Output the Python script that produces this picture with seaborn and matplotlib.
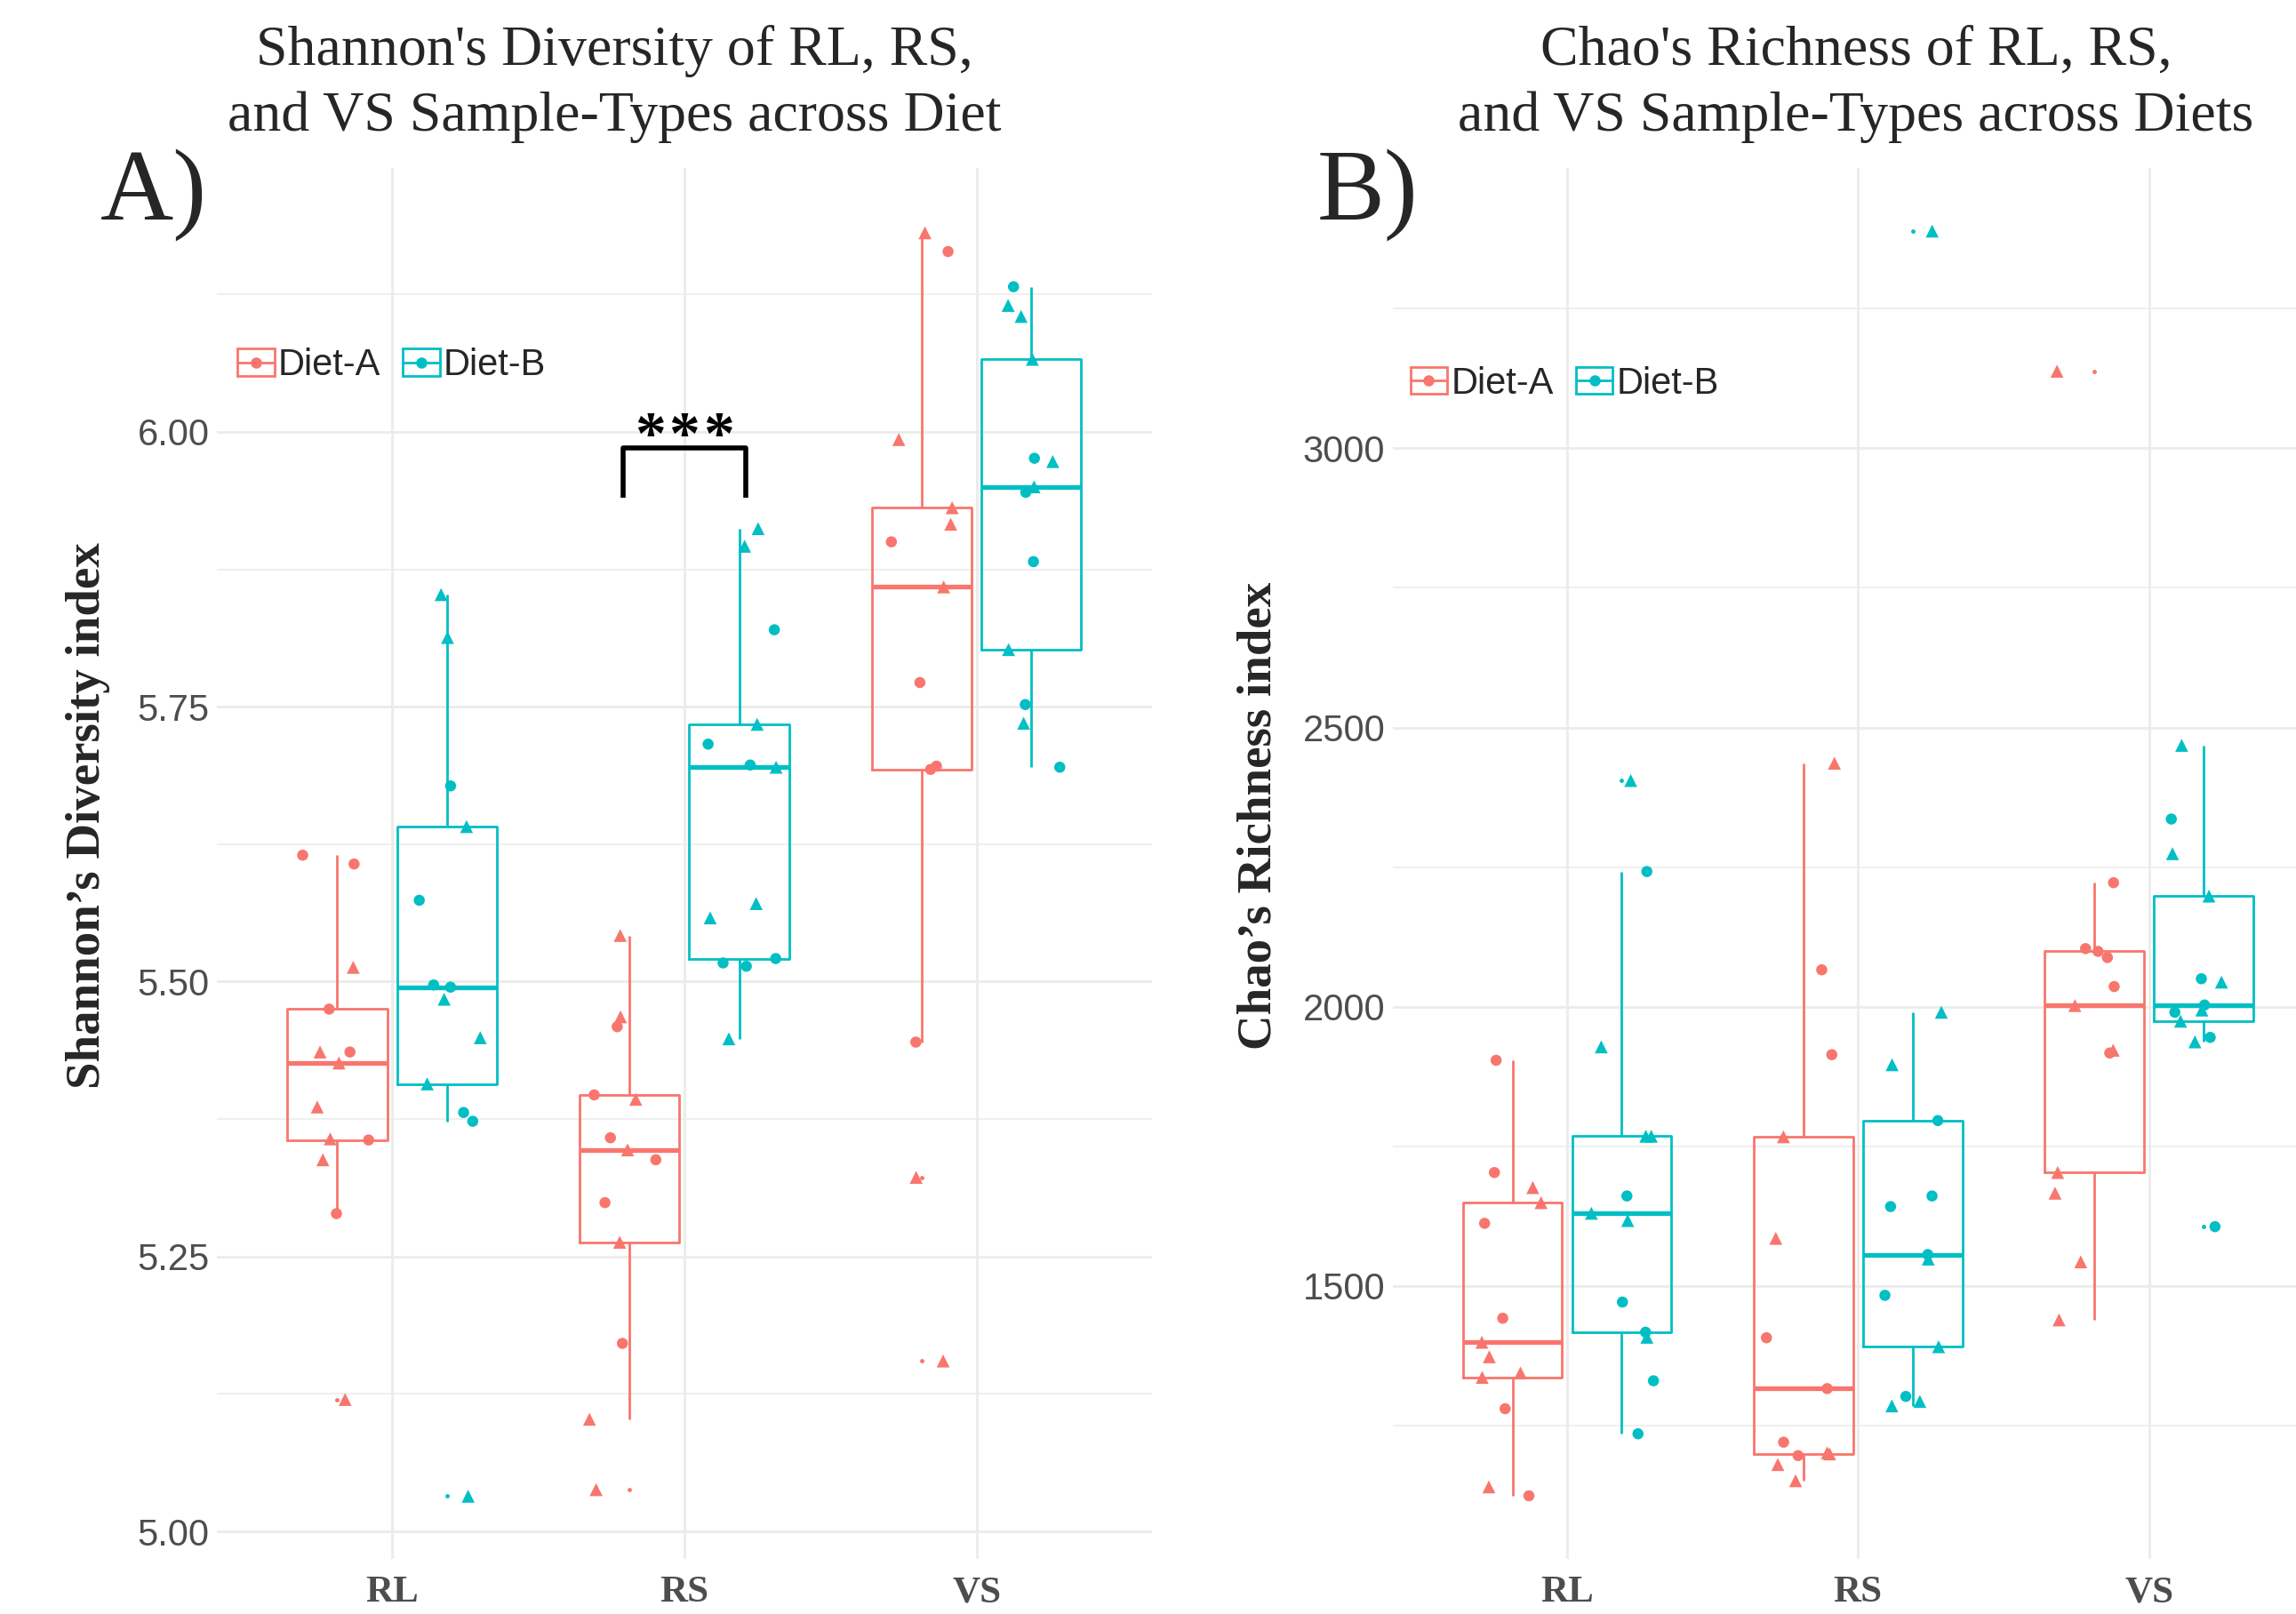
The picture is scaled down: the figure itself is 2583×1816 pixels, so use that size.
import numpy as np
import pandas as pd
import matplotlib
matplotlib.use("Agg")
import matplotlib.pyplot as plt
import seaborn as sns
from matplotlib.patches import Rectangle
from matplotlib.lines import Line2D

# ---------------- data ----------------
sample_types = ["RL", "RS", "VS"]
diets = ["Diet-A", "Diet-B"]
diet_colors = ["#F8766D", "#00BFC4"]

# Shannon's diversity index
shannon_RL_A = [5.615, 5.607, 5.513, 5.475, 5.436, 5.436, 5.426, 5.386, 5.357, 5.356, 5.338, 5.289, 5.120]
shannon_RL_B = [5.852, 5.813, 5.678, 5.641, 5.574, 5.497, 5.495, 5.484, 5.449, 5.407, 5.381, 5.373, 5.032]
shannon_RS_A = [5.542, 5.468, 5.459, 5.397, 5.393, 5.358, 5.347, 5.338, 5.299, 5.263, 5.171, 5.102, 5.038]
shannon_RS_B = [5.912, 5.896, 5.820, 5.734, 5.716, 5.697, 5.695, 5.571, 5.558, 5.521, 5.517, 5.514, 5.448]
shannon_VS_A = [6.181, 6.164, 5.993, 5.931, 5.916, 5.900, 5.859, 5.772, 5.696, 5.693, 5.445, 5.322, 5.155]
shannon_VS_B = [6.132, 6.115, 6.105, 6.066, 5.976, 5.973, 5.950, 5.945, 5.882, 5.802, 5.752, 5.735, 5.695]
shannon_sub_RL_A = [1, 1, 2, 1, 1, 2, 2, 2, 2, 1, 2, 1, 2]
shannon_sub_RL_B = [2, 2, 1, 2, 1, 1, 1, 2, 2, 2, 1, 1, 2]
shannon_sub_RS_A = [2, 2, 1, 1, 2, 1, 2, 1, 1, 2, 1, 2, 2]
shannon_sub_RS_B = [2, 2, 1, 2, 1, 1, 2, 2, 2, 1, 1, 1, 2]
shannon_sub_VS_A = [2, 1, 2, 2, 2, 1, 2, 1, 1, 1, 1, 2, 2]
shannon_sub_VS_B = [1, 2, 2, 2, 1, 2, 2, 1, 1, 2, 1, 2, 1]

# Chao's richness index
chao_RL_A = [1904, 1703, 1676, 1649, 1612, 1442, 1399, 1373, 1344, 1336, 1280, 1140, 1124]
chao_RL_B = [2405, 2242, 1928, 1768, 1768, 1661, 1630, 1617, 1471, 1417, 1408, 1330, 1235]
chao_RS_A = [2436, 2066, 1914, 1767, 1585, 1407, 1316, 1220, 1201, 1199, 1196, 1180, 1151]
chao_RS_B = [3389, 1990, 1896, 1796, 1661, 1642, 1556, 1548, 1483, 1391, 1302, 1293, 1285]
chao_VS_A = [3138, 2222, 2104, 2099, 2088, 2036, 2002, 1922, 1917, 1703, 1666, 1543, 1439]
chao_VS_B = [2468, 2336, 2274, 2198, 2050, 2044, 2003, 1994, 1990, 1974, 1945, 1937, 1606]
chao_sub_RL_A = [1, 1, 2, 2, 1, 1, 2, 2, 2, 2, 1, 2, 1]
chao_sub_RL_B = [2, 1, 2, 2, 2, 1, 2, 2, 1, 1, 2, 1, 1]
chao_sub_RS_A = [2, 1, 1, 2, 2, 1, 1, 1, 2, 2, 1, 2, 2]
chao_sub_RS_B = [2, 2, 2, 1, 1, 1, 1, 2, 1, 2, 1, 2, 2]
chao_sub_VS_A = [2, 1, 1, 1, 1, 1, 2, 2, 1, 2, 2, 2, 2]
chao_sub_VS_B = [2, 1, 2, 2, 1, 2, 1, 2, 1, 2, 1, 2, 1]

shannon_ticks = [5.00, 5.25, 5.50, 5.75, 6.00]
shannon_tick_labels = ["5.00", "5.25", "5.50", "5.75", "6.00"]
chao_ticks = [1500, 2000, 2500, 3000]
chao_tick_labels = ["1500", "2000", "2500", "3000"]


def build(groups):
    rows = []
    for stype, diet, vals, subs in groups:
        for v, s in zip(vals, subs):
            rows.append({"Type": stype, "Diet": diet, "Value": v, "Sub": s})
    return pd.DataFrame(rows)


df_sh = build([
    ("RL", "Diet-A", shannon_RL_A, shannon_sub_RL_A), ("RL", "Diet-B", shannon_RL_B, shannon_sub_RL_B),
    ("RS", "Diet-A", shannon_RS_A, shannon_sub_RS_A), ("RS", "Diet-B", shannon_RS_B, shannon_sub_RS_B),
    ("VS", "Diet-A", shannon_VS_A, shannon_sub_VS_A), ("VS", "Diet-B", shannon_VS_B, shannon_sub_VS_B),
])
df_ch = build([
    ("RL", "Diet-A", chao_RL_A, chao_sub_RL_A), ("RL", "Diet-B", chao_RL_B, chao_sub_RL_B),
    ("RS", "Diet-A", chao_RS_A, chao_sub_RS_A), ("RS", "Diet-B", chao_RS_B, chao_sub_RS_B),
    ("VS", "Diet-A", chao_VS_A, chao_sub_VS_A), ("VS", "Diet-B", chao_VS_B, chao_sub_VS_B),
])

# ---------------- style ----------------
sns.set_theme(style="white")
plt.rcParams["font.family"] = ["Liberation Sans", "DejaVu Sans"]
SERIF = ["Liberation Serif", "DejaVu Serif"]
GRID = "#EBEBEB"
TICKC = "#4D4D4D"

W, H = 2583, 1816
fig = plt.figure(figsize=(W / 100, H / 100), dpi=100)

bottom = 1 - 1754 / H
height = (1754 - 189) / H
axA = fig.add_axes([243.8 / W, bottom, (1296 - 243.8) / W, height])
axB = fig.add_axes([1566.6 / W, bottom, (2614 - 1566.6) / W, height])

np.random.seed(7)


def draw_panel(ax, df, ticks, tick_labels, minor, ylim):
    sns.boxplot(data=df, x="Type", y="Value", hue="Diet", order=sample_types,
                hue_order=diets, palette=diet_colors, fill=False, width=0.75,
                gap=0.09, showcaps=False, whis=1.5, linewidth=2.0,
                medianprops=dict(linewidth=3.8),
                flierprops=dict(marker="o", markersize=3.5, markeredgewidth=0),
                legend=False, ax=ax, zorder=2)
    for ln in ax.lines:
        if ln.get_marker() == "o":
            ln.set_markerfacecolor(ln.get_markeredgecolor())
            ln.set_markeredgewidth(0)
    for sub, marker, size in [(1, "o", 9.0), (2, "^", 10.5)]:
        sns.stripplot(data=df[df["Sub"] == sub], x="Type", y="Value", hue="Diet",
                      order=sample_types, hue_order=diets, palette=diet_colors,
                      dodge=True, jitter=0.25, marker=marker, size=size,
                      linewidth=0, legend=False, ax=ax, zorder=3)
    ax.set_xlim(-0.6, 2.6)
    ax.set_ylim(*ylim)
    ax.set_yticks(ticks)
    ax.set_yticklabels(tick_labels)
    ax.set_yticks(minor, minor=True)
    ax.grid(which="major", axis="both", color=GRID, linewidth=2.0)
    ax.grid(which="minor", axis="y", color=GRID, linewidth=1.1)
    ax.set_axisbelow(True)
    for s in ax.spines.values():
        s.set_visible(False)
    ax.tick_params(axis="both", which="both", length=0)
    ax.tick_params(axis="y", labelsize=30, labelcolor=TICKC, pad=6)
    ax.tick_params(axis="x", labelsize=31, labelcolor=TICKC, pad=14)
    for lab in ax.get_xticklabels():
        lab.set_fontfamily(SERIF)
        lab.set_fontweight("bold")
    ax.set_xlabel("")
    ax.set_ylabel("")


draw_panel(axA, df_sh, shannon_ticks, shannon_tick_labels,
           [5.125, 5.375, 5.625, 5.875, 6.125], (4.975, 6.24))
draw_panel(axB, df_ch, chao_ticks, chao_tick_labels,
           [1250, 1750, 2250, 2750, 3250], (1011, 3502))

# significance bracket on RS
rs = sample_types.index("RS")
bracket_y, bracket_drop, half = 5.985, 0.045, 0.21
axA.plot([rs - half, rs - half, rs + half, rs + half],
         [bracket_y - bracket_drop, bracket_y, bracket_y, bracket_y - bracket_drop],
         color="black", linewidth=4.0, solid_capstyle="butt", zorder=4)
star_step = 0.118
for k in (-1, 0, 1):
    axA.text(rs + k * star_step, 5.980, "*", ha="center", va="baseline", fontsize=50,
             fontweight="bold", family=SERIF, color="black")


# legend key: box outline with median line and a dot (ggplot-style)
class BoxKeyHandler:
    def legend_artist(self, legend, orig_handle, fontsize, handlebox):
        x0, y0 = -handlebox.xdescent, -handlebox.ydescent
        w, h = handlebox.width, handlebox.height
        c = orig_handle.get_color()
        tr = handlebox.get_transform()
        rect = Rectangle((x0, y0), w, h, facecolor="white", edgecolor=c,
                         linewidth=2.0, transform=tr)
        mid = Line2D([x0, x0 + w], [y0 + h / 2, y0 + h / 2], color=c,
                     linewidth=2.0, transform=tr)
        dot = Line2D([x0 + w / 2], [y0 + h / 2], marker="o", markersize=9,
                     markeredgewidth=0, color=c, linestyle="none", transform=tr)
        handlebox.add_artist(rect)
        handlebox.add_artist(mid)
        handlebox.add_artist(dot)
        return rect


def add_legend(ax, anchor):
    handles = [Line2D([], [], color=c) for c in diet_colors]
    ax.legend(handles, diets, handler_map={Line2D: BoxKeyHandler()},
              loc="center left", bbox_to_anchor=anchor, ncol=2, frameon=False,
              fontsize=30, handlelength=1.0, handleheight=0.75, handletextpad=0.1,
              columnspacing=0.6, borderpad=0, borderaxespad=0)


add_legend(axA, (0.022, 0.858))
add_legend(axB, (0.019, 0.845))

# titles
fs_title = 46
fig.text(691 / W, 1 - 57.6 / H, "Shannon's Diversity of RL, RS,", ha="center", va="center",
         fontsize=fs_title, family=SERIF)
fig.text(691 / W, 1 - 131.8 / H, "and VS Sample-Types across Diet", ha="center", va="center",
         fontsize=fs_title, family=SERIF)
fig.text(2088 / W, 1 - 57.6 / H, "Chao's Richness of RL, RS,", ha="center", va="center",
         fontsize=fs_title, family=SERIF)
fig.text(2088 / W, 1 - 131.8 / H, "and VS Sample-Types across Diets", ha="center", va="center",
         fontsize=fs_title, family=SERIF)

# panel letters
fig.text(173 / W, 1 - 247 / H, "A)", ha="center", va="baseline", fontsize=82, family=SERIF)
fig.text(1538.6 / W, 1 - 247 / H, "B)", ha="center", va="baseline", fontsize=82, family=SERIF)

# y labels
fig.text(99 / W, 1 - 918 / H, "Shannon\u2019s Diversity index", rotation=90, ha="center",
         va="center", fontsize=39.5, fontweight="bold", family=SERIF)
fig.text(1417 / W, 1 - 918 / H, "Chao\u2019s Richness index", rotation=90, ha="center",
         va="center", fontsize=39.5, fontweight="bold", family=SERIF)

fig.savefig("out.png", dpi=100, facecolor="white")
